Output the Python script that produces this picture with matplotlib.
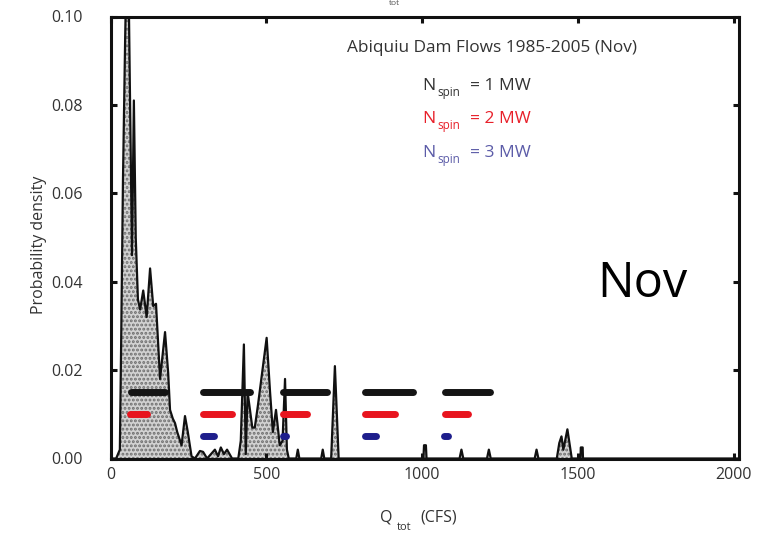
import matplotlib
matplotlib.use('Agg')
import matplotlib.pyplot as plt

# ---------------- data ----------------
flow_cfs = [0, 18, 30, 34, 40, 47, 55, 62, 69, 75, 81, 88, 95, 105, 116, 127, 137, 146,
            159, 175, 185, 191, 200, 207, 214, 228, 239, 248, 260, 271, 287, 297, 310,
            335, 345, 354, 364, 374, 390, 410, 418, 428, 434, 440, 455, 463, 473, 501,
            512, 521, 531, 543, 552, 560, 566, 572, 596, 601, 606, 676, 681, 686, 708,
            720, 732, 1004, 1006, 1012, 1014, 1120, 1126, 1132, 1208, 1214, 1220, 1361,
            1367, 1373, 1432, 1440, 1447, 1453, 1466, 1480, 1508, 1509, 1515, 1516, 2015]
density = [0, 0, 0.002, 0.025, 0.063, 0.095, 0.125, 0.085, 0.046, 0.081, 0.050, 0.036,
           0.0337, 0.038, 0.032, 0.043, 0.0345, 0.035, 0.018, 0.0286, 0.0194, 0.011,
           0.009, 0.008, 0.006, 0.003, 0.0096, 0.006, 0.0005, 0, 0.0017, 0.0015, 0,
           0.002, 0.0005, 0.0025, 0.001, 0.002, 0, 0, 0.004, 0.0258, 0.001, 0.015,
           0.007, 0.007, 0.012, 0.0273, 0.015, 0.006, 0.011, 0.003, 0.004, 0.018, 0.002,
           0, 0, 0.002, 0, 0, 0.002, 0, 0, 0.0209, 0, 0, 0.003, 0.003, 0, 0, 0.002, 0,
           0, 0.002, 0, 0, 0.002, 0, 0, 0.0035, 0.005, 0.002, 0.0066, 0, 0, 0.0025,
           0.0025, 0, 0]

spin_labels = ["= 1 MW", "= 2 MW", "= 3 MW"]
spin_levels = [0.015, 0.010, 0.005]
spin1_ranges = [(67, 175), (297, 448), (554, 694), (816, 972), (1072, 1218)]
spin2_ranges = [(62, 117), (297, 389), (554, 630), (816, 913), (1072, 1148)]
spin3_ranges = [(297, 332), (554, 562), (816, 852), (1070, 1084)]

x_ticks = [0, 500, 1000, 1500, 2000]
y_ticks = [0.00, 0.02, 0.04, 0.06, 0.08, 0.10]
y_tick_labels = ["0.00", "0.02", "0.04", "0.06", "0.08", "0.10"]

title_text = "Abiquiu Dam Flows 1985-2005 (Nov)"
month_text = "Nov"

# ---------------- figure ----------------
plt.rcParams['font.family'] = ['Open Sans', 'DejaVu Sans']
plt.rcParams['hatch.linewidth'] = 1.4

W, H = 760, 534
fig = plt.figure(figsize=(W / 100, H / 100), dpi=100)
ax = fig.add_axes([110.5 / W, 1 - 458.5 / H, (738.5 - 110.5) / W, (458.5 - 16.5) / H])

ax.fill_between(flow_cfs, density, 0, facecolor='#d2d2d2', edgecolor='#6e6e6e',
                hatch='....', linewidth=0, zorder=1)
ax.plot(flow_cfs, density, color='#111111', lw=1.6, zorder=2)

bar_colors = ['#141414', '#e8141e', '#1e1e8c']
for ranges, lvl, col in zip([spin1_ranges, spin2_ranges, spin3_ranges], spin_levels, bar_colors):
    for a, b in ranges:
        ax.plot([a, b], [lvl, lvl], color=col, lw=5.0, solid_capstyle='round', zorder=3)

ax.set_xlim(0, 2015)
ax.set_ylim(0, 0.10)
ax.set_xticks(x_ticks)
ax.set_yticks(y_ticks)
ax.set_yticklabels(y_tick_labels)

for s in ax.spines.values():
    s.set_linewidth(2.2)
    s.set_color('#111111')
ax.tick_params(direction='in', length=4, width=2.2, top=True, right=True,
               labelsize=11.5, labelcolor='#333333', color='#111111')
ax.tick_params(axis='y', pad=20)
ax.tick_params(axis='x', pad=6)

def px(x, y):
    return x / W, 1 - y / H

# y label
fig.text(*px(39, 245), "Probability density", rotation=90, ha='center', va='center',
         fontsize=11.5, color='#333333')

# x label  Q_tot (CFS)
fig.text(*px(380, 521), "Q", ha='left', va='baseline', fontsize=11.5, color='#333333')
fig.text(*px(397, 530), "tot", ha='left', va='baseline', fontsize=8, color='#333333')
fig.text(*px(420, 521), "(CFS)", ha='left', va='baseline', fontsize=11.5, color='#333333')

# fragment of the upper panel's axis label (only its subscript shows)
fig.text(*px(389, 0), "tot", ha='left', va='top', fontsize=6, color='#555555')

# title
fig.text(*px(347, 52), title_text, ha='left', va='baseline', fontsize=12.4, color='#333333')

text_colors = ['#333333', '#e8202a', '#5c5ca8']
baselines = [90, 123, 157]
for lab, col, b in zip(spin_labels, text_colors, baselines):
    fig.text(*px(422, b), "N", ha='left', va='baseline', fontsize=12.5, color=col)
    fig.text(*px(437, b + 6), "spin", ha='left', va='baseline', fontsize=8.5, color=col)
    fig.text(*px(470, b), lab, ha='left', va='baseline', fontsize=12.5, color=col)

fig.text(*px(597, 297), month_text, ha='left', va='baseline', fontsize=35, color='black')

fig.savefig('out.png', dpi=100)
